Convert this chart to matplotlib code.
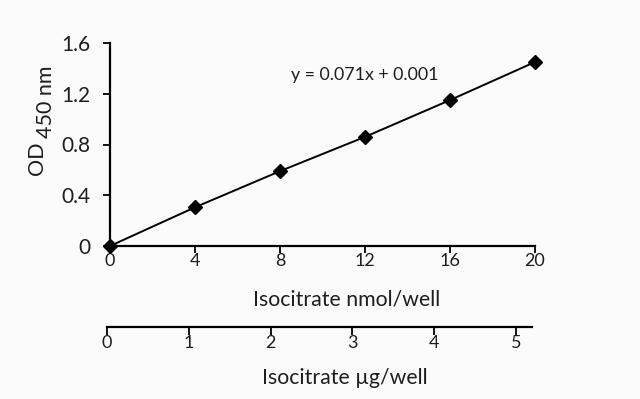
import matplotlib
matplotlib.use('Agg')
import matplotlib.pyplot as plt

# standard curve data
nmol = [0, 4, 8, 12, 16, 20]
od450 = [0.0, 0.305, 0.59, 0.86, 1.15, 1.45]
nmol_ticks = [0, 4, 8, 12, 16, 20]
od_ticks = [0, 0.4, 0.8, 1.2, 1.6]
od_labels = ['0', '0.4', '0.8', '1.2', '1.6']
ug_ticks = [0, 1, 2, 3, 4, 5]
equation = 'y = 0.071x + 0.001'

plt.rcParams['font.family'] = ['Lato', 'DejaVu Sans']
bg = '#fbfbfb'
txt = '#1e1e1e'

fig = plt.figure(figsize=(6.4, 3.99), dpi=100, facecolor=bg)

# main plot
ax = fig.add_axes([110 / 640, 1 - 246 / 399, 425 / 640, 203 / 399])
ax.set_facecolor(bg)
ax.plot(nmol, od450, color='black', lw=1.4, marker='D', ms=7, mfc='black', mec='black', clip_on=False, zorder=3)
ax.set_xlim(0, 20)
ax.set_ylim(0, 1.6)
ax.set_xticks(nmol_ticks)
ax.set_yticks(od_ticks)
ax.set_yticklabels(od_labels)
for s in ['top', 'right']:
    ax.spines[s].set_visible(False)
for s in ['left', 'bottom']:
    ax.spines[s].set_linewidth(1.6)
ax.tick_params(axis='x', direction='out', length=5, width=1.3, labelsize=13, pad=0, labelcolor=txt)
ax.tick_params(axis='y', direction='out', length=5, width=1.3, labelsize=15, pad=9, labelcolor=txt)
ax.text(12.0, 1.35, equation, fontsize=12.8, color=txt, ha='center', va='center')

fig.text(347 / 640, 1 - 300 / 399, 'Isocitrate nmol/well', fontsize=15.3, ha='center', va='center', color=txt)

# secondary axis (ug/well)
ax2 = fig.add_axes([107 / 640, 1 - 327 / 399, 425 / 640, 0.001])
ax2.set_facecolor('none')
ax2.set_xlim(0, 5 * 425 / 409)
ax2.set_xticks(ug_ticks)
ax2.set_yticks([])
for s in ['top', 'right', 'left']:
    ax2.spines[s].set_visible(False)
ax2.spines['bottom'].set_linewidth(1.6)
ax2.tick_params(axis='x', direction='out', length=6, width=1.3, labelsize=13, pad=0, labelcolor=txt)

fig.text(345 / 640, 1 - 378 / 399, 'Isocitrate \u00b5g/well', fontsize=15.3, ha='center', va='center', color=txt)

# y label, "450 nm" set lower like a subscript
fig.text(37 / 640, 1 - 158 / 399, 'OD', fontsize=15.5, rotation=90, ha='center', va='center', color=txt)
fig.text(46 / 640, 1 - 102 / 399, '450 nm', fontsize=15.5, rotation=90, ha='center', va='center', color=txt)

fig.savefig('out.png', dpi=100, facecolor=bg)
